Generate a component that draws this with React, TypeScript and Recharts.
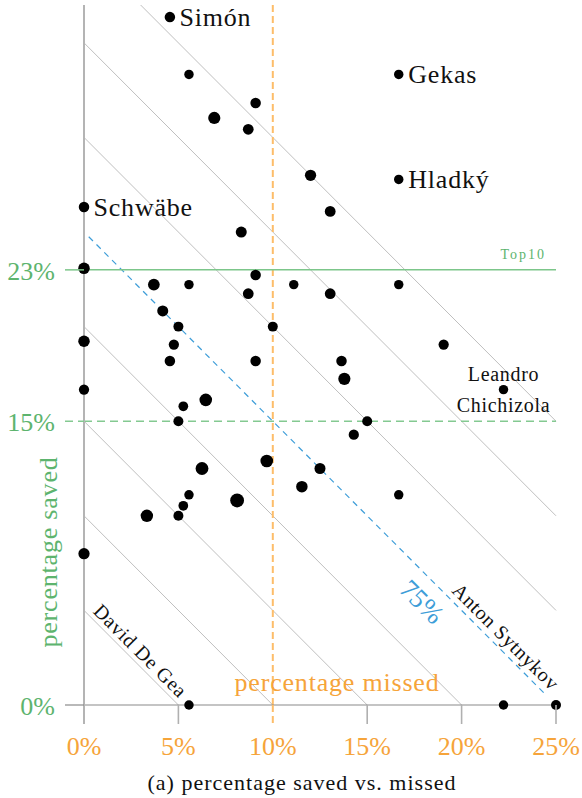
import React from 'react'
import {
  ScatterChart,
  Scatter,
  XAxis,
  YAxis,
  ZAxis,
  ReferenceLine,
  ReferenceDot,
} from 'recharts'

// 每个守门员：被罚失比例 / 扑出比例 / 面对点球数
const MISSED = [4.55, 5.56, 16.67, 9.09, 6.9, 8.7, 12.0, 16.67, 0, 13.04, 8.33, 0, 9.09, 3.7, 5.56, 11.11, 16.67, 8.7, 13.04, 4.17, 5.0, 10.0, 0, 19.05, 4.76, 4.55, 9.09, 13.64, 13.79, 0, 22.22, 6.45, 5.26, 5.0, 15.0, 14.29, 9.68, 6.25, 12.5, 11.54, 5.56, 16.67, 8.11, 5.26, 3.33, 5.0, 0, 5.56, 22.22, 25.0]
const SAVED = [36.36, 33.33, 33.33, 31.82, 31.03, 30.43, 28.0, 27.78, 26.32, 26.09, 25.0, 23.08, 22.73, 22.22, 22.22, 22.22, 22.22, 21.74, 21.74, 20.83, 20.0, 20.0, 19.23, 19.05, 19.05, 18.18, 18.18, 18.18, 17.24, 16.67, 16.67, 16.13, 15.79, 15.0, 15.0, 14.29, 12.9, 12.5, 12.5, 11.54, 11.11, 11.11, 10.81, 10.53, 10.0, 10.0, 8.0, 0, 0, 0]
const FACED = [22, 18, 18, 22, 29, 23, 25, 18, 22, 23, 24, 26, 22, 27, 18, 18, 18, 23, 23, 24, 20, 20, 26, 21, 21, 22, 22, 22, 29, 21, 18, 31, 19, 20, 20, 21, 31, 32, 24, 26, 18, 18, 37, 19, 30, 20, 25, 18, 18, 20]
const NAMES: Record<number, string> = {
  0: 'Simón',
  2: 'Gekas',
  7: 'Hladký',
  8: 'Schwäbe',
  30: 'Leandro Chichizola',
  47: 'David De Gea',
  49: 'Anton Sytnykov',
}

const X_TICKS = [0, 5, 10, 15, 20, 25]
const Y_TICKS = [0, 15, 23]
const ISO_SUMS = [5, 10, 15, 20, 30, 35, 40]
const Q75_SUM = 25
const TOP10_SAVED = 23
const MEDIAN_SAVED = 15
const MEDIAN_MISSED = 10
const X_MAX = 25
const Y_MAX = 37

const SERIF = '"Liberation Serif", "Times New Roman", serif'
const ORANGE = '#f6a43a'
const GREEN = '#5db46e'
const BLUE = '#3d9dd8'
const INK = '#111'

const keepers = MISSED.map((x, i) => ({ x, y: SAVED[i], z: FACED[i], name: NAMES[i] }))

/** x + y = s 的线段，裁到坐标范围内 */
const isoSegment = (s: number) => [
  { x: Math.max(0, s - Y_MAX), y: Math.min(s, Y_MAX) },
  { x: Math.min(s, X_MAX), y: Math.max(0, s - X_MAX) },
]

function NameLabel({ name, cx, cy }: { name: string; cx: number; cy: number }) {
  if (name === 'Leandro Chichizola') {
    return (
      <text textAnchor="middle" fontSize={20} letterSpacing={0.7} fill={INK} fontFamily={SERIF}>
        <tspan x={cx} y={cy - 9}>Leandro</tspan>
        <tspan x={cx} y={cy + 22}>Chichizola</tspan>
      </text>
    )
  }
  if (name === 'David De Gea' || name === 'Anton Sytnykov') {
    const ax = name === 'David De Gea' ? cx - 10 : cx - 5
    const ay = name === 'David De Gea' ? cy - 6 : cy - 13.5
    return (
      <text
        x={ax}
        y={ay}
        transform={`rotate(45 ${ax} ${ay})`}
        textAnchor="end"
        fontSize={20}
        letterSpacing={0.7}
        fill={INK}
        fontFamily={SERIF}
      >
        {name}
      </text>
    )
  }
  return (
    <text x={cx + 9.5} y={cy + 9} fontSize={26} letterSpacing={0.8} fill={INK} fontFamily={SERIF}>
      {name}
    </text>
  )
}

function KeeperDot(props: any) {
  const { cx, cy, size, width, payload } = props
  const r = size ? Math.sqrt(size / Math.PI) : (width ?? 9) / 2
  return (
    <g>
      <circle cx={cx} cy={cy} r={r} fill="#000" />
      {payload?.name && <NameLabel name={payload.name} cx={cx} cy={cy} />}
    </g>
  )
}

function XTick(props: any) {
  const { x, y, payload } = props
  const v = payload.value
  const top = y - 21
  const bottom = y - 2
  let stroke = '#b0b0b0'
  let dash: string | undefined
  let sw = 1.6
  if (v === MEDIAN_MISSED) {
    stroke = '#fdbd6a'
    dash = '7 4'
    sw = 2
  } else if (v === 0) {
    stroke = '#b4b4b4'
    sw = 2
  }
  return (
    <g>
      <line x1={x} x2={x} y1={top} y2={bottom} stroke={stroke} strokeWidth={sw} strokeDasharray={dash} />
      <text x={x} y={y + 29} textAnchor="middle" fill={ORANGE} fontSize={26} fontFamily={SERIF}>
        {v}%
      </text>
    </g>
  )
}

function YTick(props: any) {
  const { x, y, payload } = props
  const v = payload.value
  let stroke = '#8a8a8a'
  let dash: string | undefined
  let sw = 1.2
  if (v === TOP10_SAVED) {
    stroke = '#7cc68a'
    sw = 1.5
  } else if (v === MEDIAN_SAVED) {
    stroke = '#84c991'
    dash = '8 5'
    sw = 1.5
  }
  return (
    <g>
      <line x1={x + 10} x2={x + 29} y1={y} y2={y} stroke={stroke} strokeWidth={sw} strokeDasharray={dash} />
      <text x={x} y={y + 10} textAnchor="end" fill={GREEN} fontSize={26} fontFamily={SERIF}>
        {v}%
      </text>
    </g>
  )
}

function XLabel(props: any) {
  const vb = props.viewBox ?? { x: 84, y: 705, width: 472, height: 93 }
  const mid = vb.x + vb.width / 2
  return (
    <g>
      <text x={mid + 17} y={vb.y - 14} textAnchor="middle" fill={ORANGE} fontSize={26} letterSpacing={0.8} fontFamily={SERIF}>
        percentage missed
      </text>
      <text x={mid - 18} y={vb.y + 85} textAnchor="middle" fill={INK} fontSize={22} letterSpacing={1} fontFamily={SERIF}>
        (a) percentage saved vs. missed
      </text>
    </g>
  )
}

function YLabel(props: any) {
  const vb = props.viewBox ?? { x: 0, y: 5, width: 84, height: 700 }
  const x = vb.x + vb.width - 27
  const y = vb.y + vb.height - 153
  return (
    <text
      x={x}
      y={y}
      transform={`rotate(-90 ${x} ${y})`}
      textAnchor="middle"
      fill={GREEN}
      fontSize={26}
      letterSpacing={0.8}
      fontFamily={SERIF}
    >
      percentage saved
    </text>
  )
}

function Top10Label(props: any) {
  const vb = props.viewBox ?? { x: 84, y: 270, width: 472 }
  return (
    <text x={vb.x + vb.width - 10} y={vb.y - 11} textAnchor="end" fill={GREEN} fontSize={14} letterSpacing={2} fontFamily={SERIF}>
      Top10
    </text>
  )
}

function Q75Label(props: any) {
  const { cx, cy } = props
  return (
    <text
      x={cx}
      y={cy}
      transform={`rotate(45 ${cx} ${cy})`}
      textAnchor="middle"
      dominantBaseline="central"
      fill={BLUE}
      fontSize={27}
      fontFamily={SERIF}
    >
      75%
    </text>
  )
}

export default function App() {
  return (
    <div style={{ position: 'absolute', left: 0, top: 0, width: 582, height: 798, background: '#fff', fontFamily: SERIF }}>
      <ScatterChart width={582} height={798} margin={{ top: 5, right: 26, bottom: 0, left: 0 }}>
        <XAxis
          type="number"
          dataKey="x"
          domain={[0, X_MAX]}
          ticks={X_TICKS}
          interval={0}
          height={93}
          tickSize={19}
          tickLine={false}
          axisLine={{ stroke: '#8a8a8a', strokeWidth: 1.2 }}
          tick={<XTick />}
          label={<XLabel />}
        />
        <YAxis
          type="number"
          dataKey="y"
          domain={[0, Y_MAX]}
          ticks={Y_TICKS}
          interval={0}
          width={84}
          tickSize={19}
          tickMargin={10}
          tickLine={false}
          axisLine={{ stroke: '#b4b4b4', strokeWidth: 2 }}
          tick={<YTick />}
          label={<YLabel />}
        />
        <ZAxis type="number" dataKey="z" domain={[18, 37]} range={[70, 150]} />
        {ISO_SUMS.map((s) => (
          <ReferenceLine key={s} segment={isoSegment(s)} stroke="#bfbfbf" strokeWidth={1} />
        ))}
        <ReferenceLine
          segment={[
            { x: 0.25, y: Q75_SUM - 0.25 },
            { x: 24.45, y: Q75_SUM - 24.45 },
          ]}
          stroke={BLUE}
          strokeWidth={1.2}
          strokeDasharray="6 5"
        />
        <ReferenceLine x={MEDIAN_MISSED} stroke="#fdbd6a" strokeWidth={2} strokeDasharray="7 4" />
        <ReferenceLine y={MEDIAN_SAVED} stroke="#84c991" strokeWidth={1.5} strokeDasharray="8 5" />
        <ReferenceLine y={TOP10_SAVED} stroke="#7cc68a" strokeWidth={1.5} label={<Top10Label />} />
        <ReferenceDot x={17.9} y={5.45} r={0} fill="none" stroke="none" shape={<Q75Label />} />
        <Scatter data={keepers} fill="#000" isAnimationActive={false} shape={<KeeperDot />} />
      </ScatterChart>
    </div>
  )
}
